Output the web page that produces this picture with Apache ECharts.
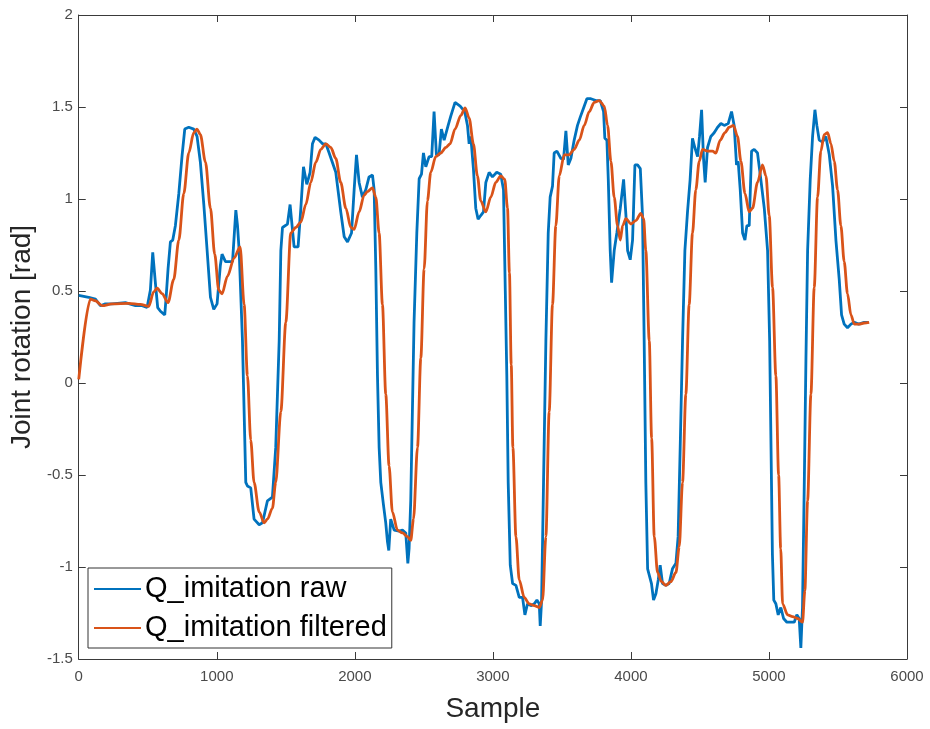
<!DOCTYPE html>
<html>
<head>
<meta charset="utf-8">
<script src="https://cdn.jsdelivr.net/npm/echarts@6/dist/echarts.min.js"></script>
<style>html,body{margin:0;padding:0;background:#fff}#c{width:930px;height:729px}</style>
</head>
<body>
<div id="c"></div>
<script>
const seriesNames = ['Q_imitation raw', 'Q_imitation filtered'];
const xTicks = [0, 1000, 2000, 3000, 4000, 5000, 6000];
const yTicks = [-1.5, -1, -0.5, 0, 0.5, 1, 1.5, 2];

const rawX = [0,72,121,157,193,242,338,411,459,495,519,536,555,572,592,623,633,647,664,681,700,725,749,768,797,833,857,881,906,930,954,978,1002,1026,1038,1063,1087,1114,1138,1150,1162,1186,1198,1210,1222,1246,1270,1307,1331,1367,1403,1427,1452,1464,1476,1512,1531,1548,1560,1589,1609,1628,1652,1676,1693,1712,1741,1766,1790,1814,1862,1898,1923,1947,1976,1995,2012,2031,2055,2079,2103,2128,2140,2152,2164,2176,2188,2207,2224,2236,2246,2260,2285,2321,2345,2369,2384,2393,2405,2417,2429,2449,2466,2483,2497,2514,2538,2557,2574,2591,2610,2627,2647,2676,2695,2726,2763,2796,2816,2828,2840,2859,2876,2893,2912,2932,2949,2973,2997,3028,3057,3077,3090,3101,3111,3126,3143,3167,3191,3215,3232,3251,3275,3300,3319,3336,3343,3353,3367,3384,3401,3415,3432,3444,3464,3493,3512,3529,3546,3565,3589,3613,3633,3657,3681,3710,3746,3778,3802,3811,3826,3836,3850,3860,3879,3898,3923,3947,3964,3976,3995,4012,4029,4048,4068,4084,4096,4108,4121,4132,4149,4164,4181,4198,4212,4229,4253,4277,4301,4326,4342,4357,4374,4391,4410,4429,4446,4463,4483,4497,4512,4526,4538,4555,4579,4603,4628,4652,4676,4705,4729,4748,4765,4777,4792,4809,4826,4840,4857,4874,4893,4917,4941,4966,4990,5005,5015,5025,5035,5050,5067,5086,5106,5130,5159,5183,5202,5219,5231,5243,5256,5268,5280,5299,5316,5333,5347,5364,5388,5412,5437,5461,5485,5509,5526,5545,5569,5594,5618,5650,5690,5720];
const rawY = [0.476,0.466,0.456,0.42,0.43,0.43,0.437,0.42,0.42,0.41,0.505,0.71,0.545,0.41,0.39,0.37,0.466,0.62,0.767,0.777,0.855,1.03,1.24,1.38,1.39,1.38,1.34,1.2,0.97,0.72,0.466,0.40,0.43,0.64,0.70,0.66,0.66,0.66,0.94,0.855,0.72,0.23,-0.155,-0.54,-0.56,-0.57,-0.74,-0.77,-0.76,-0.64,-0.62,-0.35,0.23,0.72,0.845,0.864,0.97,0.835,0.74,0.74,0.95,1.175,1.08,1.145,1.30,1.335,1.32,1.30,1.30,1.25,1.145,0.93,0.795,0.767,0.815,1.05,1.24,1.09,1.01,1.05,1.12,1.13,1.05,0.62,0.04,-0.35,-0.54,-0.66,-0.76,-0.86,-0.91,-0.74,-0.80,-0.805,-0.80,-0.815,-0.98,-0.90,-0.64,-0.155,0.33,0.815,1.11,1.135,1.25,1.175,1.23,1.23,1.475,1.24,1.24,1.38,1.32,1.40,1.45,1.525,1.505,1.475,1.40,1.30,1.34,1.165,0.95,0.89,0.91,0.93,1.09,1.145,1.12,1.145,1.135,1.05,0.5,0.04,-0.54,-0.99,-1.09,-1.10,-1.165,-1.165,-1.26,-1.20,-1.21,-1.20,-1.18,-1.20,-1.32,-1.18,-0.54,0.23,0.815,1.01,1.07,1.25,1.26,1.22,1.215,1.37,1.185,1.22,1.32,1.40,1.445,1.495,1.545,1.545,1.535,1.535,1.475,1.33,1.32,1.107,0.72,0.545,0.72,0.815,0.95,1.107,0.91,0.72,0.67,0.777,1.185,1.185,1.165,0.91,0.23,-0.54,-1.01,-1.01,-1.09,-1.18,-1.145,-1.07,-0.99,-1.09,-1.10,-1.09,-1.01,-0.98,-0.835,-0.35,0.23,0.72,0.93,1.107,1.33,1.28,1.23,1.34,1.485,1.22,1.09,1.28,1.34,1.36,1.39,1.41,1.40,1.41,1.475,1.40,1.185,1.205,1.05,0.815,0.777,0.855,0.855,1.26,1.27,1.25,1.107,0.95,0.72,0.23,-0.35,-0.93,-1.18,-1.20,-1.26,-1.22,-1.28,-1.30,-1.30,-1.30,-1.26,-1.28,-1.44,-1.22,-0.54,0.136,0.72,1.107,1.34,1.485,1.40,1.32,1.31,1.34,1.24,1.07,0.777,0.563,0.37,0.32,0.30,0.32,0.33,0.32,0.33,0.33];

const filtX = [0,85,121,169,242,362,447,507,543,568,604,647,688,725,761,797,833,857,881,918,954,985,1014,1038,1077,1126,1169,1198,1222,1246,1270,1307,1343,1367,1403,1427,1464,1500,1536,1572,1609,1645,1681,1717,1754,1790,1826,1862,1898,1935,1971,1995,2031,2067,2091,2128,2152,2176,2200,2224,2248,2272,2309,2345,2381,2405,2425,2454,2478,2502,2526,2550,2586,2623,2659,2690,2726,2768,2799,2828,2859,2888,2912,2949,2985,3021,3057,3086,3106,3120,3133,3145,3167,3191,3227,3263,3300,3336,3360,3384,3408,3432,3456,3481,3517,3553,3589,3626,3662,3698,3734,3770,3807,3831,3855,3879,3903,3923,3940,3964,4000,4036,4072,4092,4108,4133,4150,4169,4193,4222,4253,4289,4326,4350,4374,4398,4422,4446,4470,4495,4519,4555,4591,4615,4647,4681,4712,4743,4772,4797,4826,4857,4881,4917,4953,4978,5002,5026,5050,5070,5085,5099,5135,5171,5207,5243,5260,5280,5304,5328,5352,5376,5400,5425,5449,5473,5497,5521,5545,5569,5594,5618,5654,5690,5726];
const filtY = [0.02,0.456,0.447,0.42,0.43,0.433,0.427,0.417,0.495,0.515,0.485,0.437,0.563,0.777,1.03,1.25,1.36,1.38,1.35,1.2,0.95,0.70,0.505,0.485,0.58,0.68,0.74,0.427,0.04,-0.31,-0.54,-0.70,-0.76,-0.74,-0.68,-0.54,-0.155,0.33,0.815,0.845,0.874,0.97,1.09,1.20,1.27,1.30,1.28,1.22,1.09,0.95,0.845,0.835,0.93,1.02,1.04,1.06,1.01,0.815,0.427,-0.06,-0.45,-0.70,-0.80,-0.815,-0.835,-0.855,-0.74,-0.35,0.136,0.62,0.99,1.145,1.23,1.25,1.28,1.30,1.38,1.455,1.495,1.44,1.30,1.126,0.99,0.93,1.01,1.09,1.126,1.107,0.95,0.6,0.1,-0.35,-0.835,-1.07,-1.165,-1.20,-1.21,-1.22,-1.18,-0.835,-0.155,0.427,0.855,1.126,1.24,1.24,1.27,1.32,1.40,1.475,1.525,1.535,1.505,1.40,1.205,1.01,0.855,0.777,0.855,0.893,0.864,0.883,0.922,0.893,0.72,0.23,-0.3,-0.835,-1.03,-1.08,-1.10,-1.08,-1.03,-0.89,-0.54,-0.06,0.427,0.815,1.05,1.205,1.27,1.26,1.26,1.25,1.32,1.36,1.39,1.40,1.34,1.205,1.03,0.93,0.95,1.09,1.185,1.126,0.91,0.52,0.04,-0.5,-0.9,-1.2,-1.26,-1.27,-1.28,-1.30,-1.13,-0.64,-0.06,0.52,1.01,1.26,1.35,1.36,1.30,1.205,1.05,0.855,0.66,0.485,0.37,0.32,0.32,0.326,0.33];

const zip = (a, b) => a.map((v, i) => [v, b[i]]);
const FONT = '"Liberation Sans", Arial, Helvetica, sans-serif';
const AX = '#3a3a3a', LAB = '#4a4a4a';

const chart = echarts.init(document.getElementById('c'), null, {renderer: 'canvas'});
const baseX = {
  type: 'value', min: xTicks[0], max: xTicks[xTicks.length - 1], interval: 1000,
  splitLine: {show: false},
  axisLine: {show: true, onZero: false, lineStyle: {color: AX, width: 1}},
  axisTick: {show: true, inside: true, length: 7, lineStyle: {color: AX}}
};
const baseY = {
  type: 'value', min: yTicks[0], max: yTicks[yTicks.length - 1], interval: 0.5,
  splitLine: {show: false},
  axisLine: {show: true, onZero: false, lineStyle: {color: AX, width: 1}},
  axisTick: {show: true, inside: true, length: 7, lineStyle: {color: AX}}
};
chart.setOption({
  backgroundColor: '#fff',
  animation: false,
  grid: {left: 78, right: 23, top: 15, bottom: 70, containLabel: false},
  xAxis: [
    Object.assign({}, baseX, {
      position: 'bottom',
      axisLabel: {color: LAB, fontSize: 15, fontFamily: FONT, margin: 10, formatter: v => String(v)},
      name: 'Sample', nameLocation: 'middle', nameGap: 36,
      nameTextStyle: {color: '#262626', fontSize: 28, fontFamily: FONT}
    }),
    Object.assign({}, baseX, {position: 'top', axisLabel: {show: false}})
  ],
  yAxis: [
    Object.assign({}, baseY, {
      position: 'left',
      axisLabel: {color: LAB, fontSize: 15, fontFamily: FONT, margin: 6, formatter: v => String(v)},
      name: 'Joint rotation [rad]', nameLocation: 'middle', nameGap: 42,
      nameTextStyle: {color: '#262626', fontSize: 28, fontFamily: FONT}
    }),
    Object.assign({}, baseY, {position: 'right', axisLabel: {show: false}})
  ],
  legend: {
    orient: 'vertical', left: 88, top: 568,
    data: seriesNames,
    itemWidth: 47, itemHeight: 14, itemGap: 9,
    padding: [6, 5, 5, 5],
    borderColor: '#333', borderWidth: 1, backgroundColor: '#fff',
    itemStyle: {opacity: 0},
    textStyle: {color: '#000', fontSize: 29, fontFamily: FONT, lineHeight: 30, padding: [0, 0, 0, -1]}
  },
  series: [
    {
      name: seriesNames[0], type: 'line', data: zip(rawX, rawY),
      symbol: 'none', smooth: false,
      lineStyle: {color: '#0072BD', width: 2.8}, itemStyle: {color: '#0072BD'}, z: 2
    },
    {
      name: seriesNames[1], type: 'line', data: zip(filtX, filtY),
      symbol: 'none', smooth: 0.3, smoothMonotone: 'x',
      lineStyle: {color: '#D95319', width: 2.8}, itemStyle: {color: '#D95319'}, z: 3
    }
  ]
});
</script>
</body>
</html>
